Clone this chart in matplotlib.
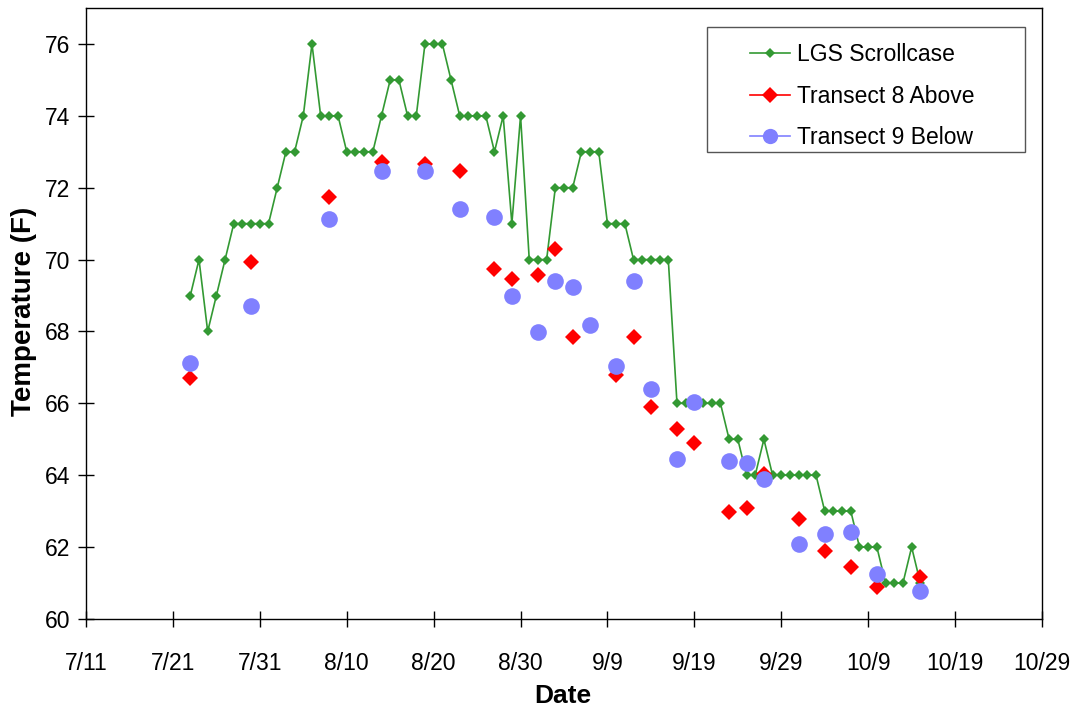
import matplotlib
matplotlib.use("Agg")
import matplotlib.pyplot as plt
from matplotlib.lines import Line2D
from matplotlib.patches import Rectangle
import pandas as pd

YEAR = 2003

# ── Data ───────────────────────────────────────────────────────────────────
# LGS scrollcase: one reading per day, 7/23 through 10/15
scroll_start, scroll_end = "7/23", "10/15"
scroll_temp = [
    69, 70, 68, 69, 70, 71, 71, 71, 71, 71,      # 7/23 - 8/1
    72, 73, 73, 74, 76, 74, 74, 74, 73, 73,      # 8/2 - 8/11
    73, 73, 74, 75, 75, 74, 74, 76, 76, 76,      # 8/12 - 8/21
    75, 74, 74, 74, 74, 73, 74, 71, 74, 70,      # 8/22 - 8/31
    70, 70, 72, 72, 72, 73, 73, 73, 71, 71,      # 9/1 - 9/10
    71, 70, 70, 70, 70, 70, 66, 66, 66, 66,      # 9/11 - 9/20
    66, 66, 65, 65, 64, 64, 65, 64, 64, 64,      # 9/21 - 9/30
    64, 64, 64, 63, 63, 63, 63, 62, 62, 62,      # 10/1 - 10/10
    61, 61, 61, 62, 61,                          # 10/11 - 10/15
]

t8_dates = ["7/23", "7/30", "8/8", "8/14", "8/19", "8/23", "8/27", "8/29",
            "9/1", "9/3", "9/5", "9/10", "9/12", "9/14", "9/17", "9/19",
            "9/23", "9/25", "9/27", "10/1", "10/4", "10/7", "10/10", "10/15"]
t8_temp = [66.7, 69.93, 71.73, 72.72, 72.65, 72.46, 69.73, 69.45,
           69.56, 70.30, 67.85, 66.78, 67.85, 65.91, 65.28, 64.89,
           62.97, 63.09, 64.03, 62.77, 61.88, 61.46, 60.88, 61.18]

t9_dates = ["7/23", "7/30", "8/8", "8/14", "8/19", "8/23", "8/27", "8/29",
            "9/1", "9/3", "9/5", "9/7", "9/10", "9/12", "9/14", "9/17",
            "9/19", "9/23", "9/25", "9/27", "10/1", "10/4", "10/7", "10/10",
            "10/15"]
t9_temp = [67.13, 68.71, 71.14, 72.46, 72.46, 71.40, 71.18, 68.99,
           67.99, 69.40, 69.23, 68.17, 67.04, 69.41, 66.41, 64.44,
           66.04, 64.39, 64.35, 63.90, 62.09, 62.37, 62.42, 61.25,
           60.79]

date_ticks = ["7/11", "7/21", "7/31", "8/10", "8/20", "8/30", "9/9",
              "9/19", "9/29", "10/9", "10/19", "10/29"]
temp_ticks = [60, 62, 64, 66, 68, 70, 72, 74, 76]


def to_dates(labels):
    return pd.to_datetime([f"{YEAR}/{s}" for s in labels])


scroll_x = pd.date_range(f"{YEAR}/{scroll_start}", f"{YEAR}/{scroll_end}", freq="D")
t8_x = to_dates(t8_dates)
t9_x = to_dates(t9_dates)
tick_x = to_dates(date_ticks)

GREEN = "#339933"
RED = "#FF0000"
BLUE = "#8080FF"

plt.rcParams["font.family"] = ["Liberation Sans", "DejaVu Sans"]

# ── Chart ──────────────────────────────────────────────────────────────────
fig = plt.figure(figsize=(10.78, 7.15), dpi=100)
ax = fig.add_axes([0.0798, 0.1343, 0.8868, 0.8545])

ax.plot(scroll_x, scroll_temp, color=GREEN, linewidth=1.2,
        marker="D", markersize=4.6, markeredgewidth=0, zorder=3)
ax.plot(t8_x, t8_temp, linestyle="none", color=RED,
        marker="D", markersize=8.5, markeredgewidth=0, zorder=4)
ax.plot(t9_x, t9_temp, linestyle="none", color=BLUE,
        marker="o", markersize=12, markeredgewidth=0, zorder=5)

ax.set_xlim(tick_x[0], tick_x[-1])
ax.set_ylim(60, 77)
ax.set_xticks(tick_x)
ax.set_xticklabels(date_ticks)
ax.set_yticks(temp_ticks)
ax.tick_params(axis="both", direction="inout", length=11, width=1,
               labelsize=16.5, colors="black")
ax.tick_params(axis="x", pad=18)
ax.tick_params(axis="y", pad=6)
for sp in ax.spines.values():
    sp.set_linewidth(1)
    sp.set_color("black")

ax.set_xlabel("Date", fontsize=19, fontweight="bold")
ax.set_ylabel("Temperature (F)", fontsize=20, fontweight="bold")
ax.xaxis.set_label_coords(0.499, -0.106)
ax.yaxis.set_label_coords(-0.051, 0.504)

# legend: Excel-style box drawn separately, entries placed inside it
ax.add_patch(Rectangle((0.6496, 0.7643), 0.3326, 0.2046, transform=ax.transAxes,
                       facecolor="white", edgecolor="#555555", linewidth=1,
                       zorder=6))
handles = [
    Line2D([], [], color=GREEN, linewidth=1.2, marker="D", markersize=5,
           markeredgewidth=0),
    Line2D([], [], color=RED, linewidth=1.2, marker="D", markersize=8,
           markeredgewidth=0),
    Line2D([], [], color=BLUE, linewidth=1.2, marker="o", markersize=11,
           markeredgewidth=0),
]
leg = ax.legend(handles, ["LGS Scrollcase", "Transect 8 Above", "Transect 9 Below"],
                loc="upper left", bbox_to_anchor=(0.6946, 0.942),
                frameon=False, fontsize=16.5, borderpad=0, borderaxespad=0,
                handlelength=1.75, handletextpad=0.3, labelspacing=0.8)
leg.set_zorder(7)

fig.savefig("out.png", dpi=100)
